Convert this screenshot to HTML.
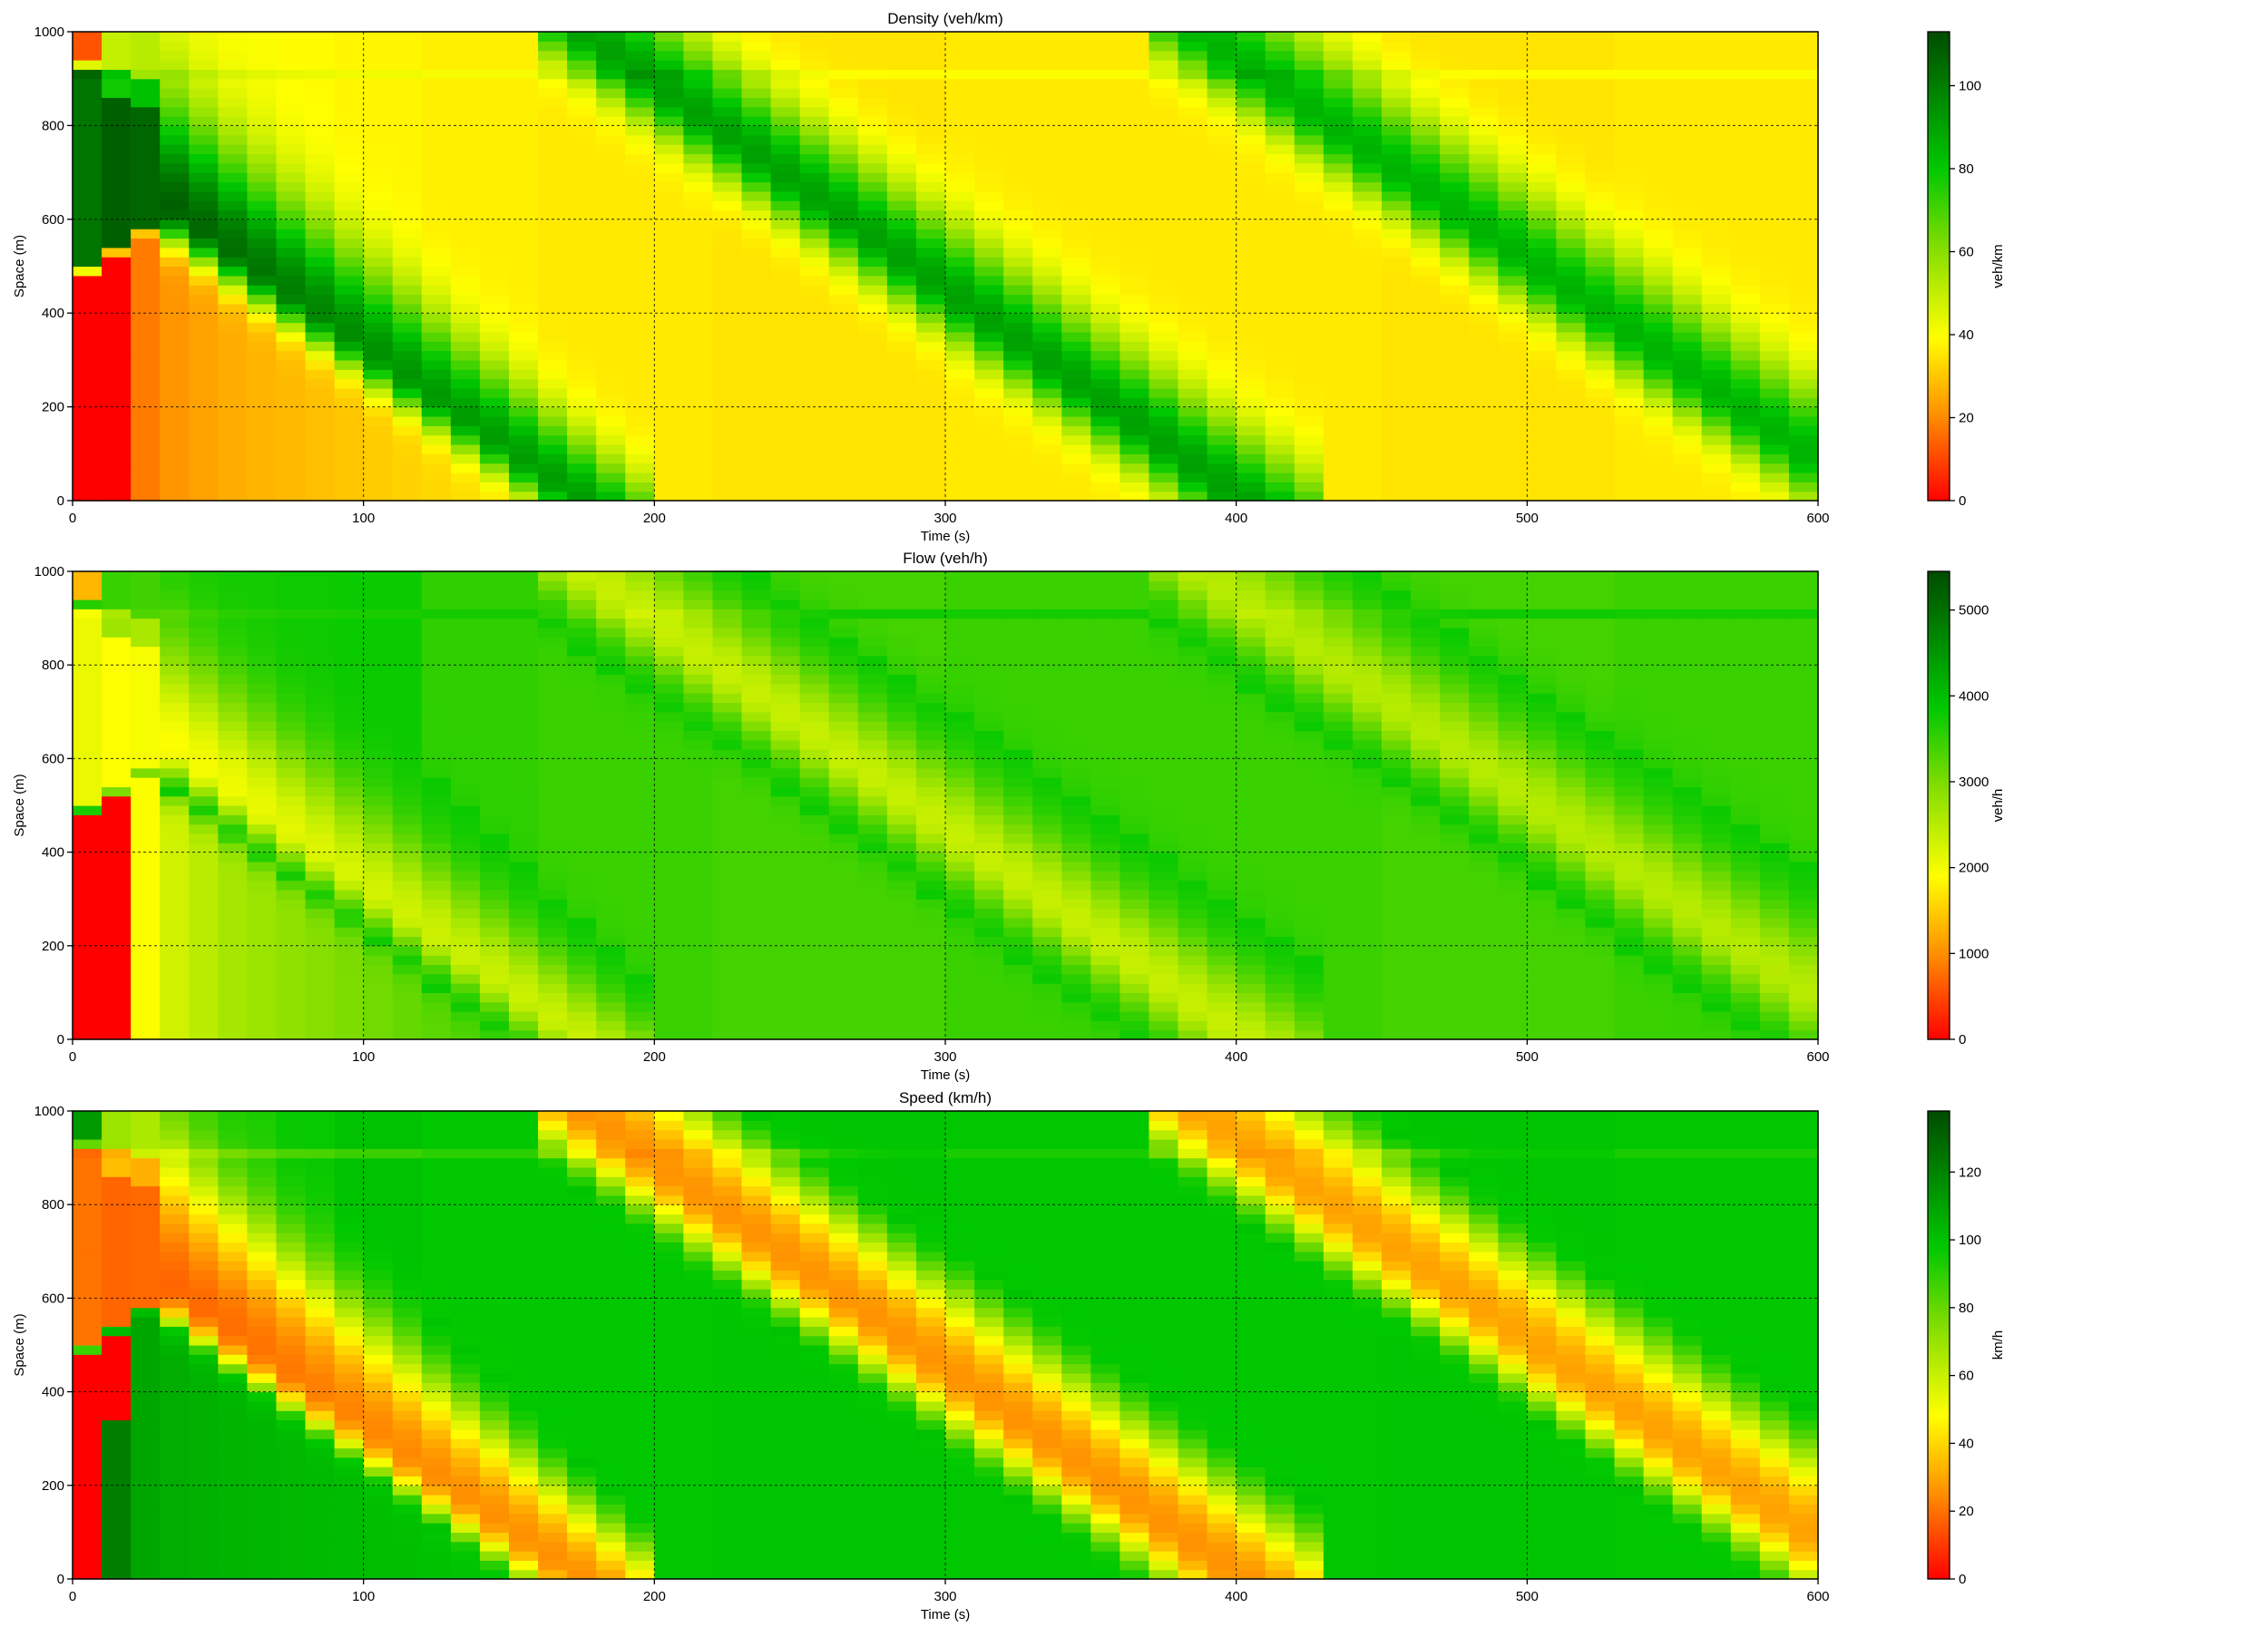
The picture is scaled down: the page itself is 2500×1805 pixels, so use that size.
<!DOCTYPE html>
<html><head><meta charset="utf-8"><style>
html,body{margin:0;padding:0;background:#fff;}
svg text{font-family:"Liberation Sans",sans-serif;fill:#000;}
</style></head><body>
<svg id="fig" xmlns="http://www.w3.org/2000/svg" width="2500" height="1800" viewBox="0 0 2500 1800"></svg>
<script>
// ---- data ----
const times = [0,10,20,30,40,50,60,70,80,90,100,110,120,130,140,150,160,170,180,190,200,210,220,230,240,250,260,270,280,290,300,310,320,330,340,350,360,370,380,390,400,410,420,430,440,450,460,470,480,490,500,510,520,530,540,550,560,570,580,590];
const spaces = [];
for (let s = 0; s < 1000; s += 20) spaces.push(s);
const N = null;
// jam wave centres (m) per time column
const wave1Center = [N,N,N,620,576,531,487,442,398,354,309,265,220,176,132,87,43,-1,-46,-90,N,N,N,N,N,N,N,N,N,N,N,N,N,N,N,N,N,N,N,N,N,N,N,N,N,N,N,N,N,N,N,N,N,N,N,N,N,N,N,N];
const wave2Center = [N,N,N,N,N,N,N,N,N,N,N,N,N,N,N,N,1044,1000,956,912,868,824,780,736,692,648,604,560,516,472,428,384,340,296,252,208,164,120,76,32,-12,-56,-100,N,N,N,N,N,N,N,N,N,N,N,N,N,N,N,N,N];
const wave3Center = [N,N,N,N,N,N,N,N,N,N,N,N,N,N,N,N,N,N,N,N,N,N,N,N,N,N,N,N,N,N,N,N,N,N,N,N,N,1047,1004,961,919,876,833,790,747,704,661,618,575,532,489,446,403,360,317,274,231,188,145,102];
const wave1Peak = [0,0,0,108,106,104,102,100,98,96,95,94,93,92,92,92,92,92,92,92,0,0,0,0,0,0,0,0,0,0,0,0,0,0,0,0,0,0,0,0,0,0,0,0,0,0,0,0,0,0,0,0,0,0,0,0,0,0,0,0];
const wave2Peak = 91;
const wave3Peak = 86;
const baseAbove = [0,0,0,42,41,40,40,39,39,38,38,38,37,37,37,37,36,36,36,36,36,36,35,35,35,35,35,35,35,35,36,36,36,36,36,36,36,36,36,36,36,36,36,36,36,35,35,35,35,35,35,35,35,36,36,36,36,36,36,36];
const baseBelow = [0,0,0,22,24,26,27,28,29,30,31,32,33,34,34,35,35,35,35,35,36,36,35,35,35,35,35,35,35,35,36,36,36,36,36,36,36,36,36,36,36,36,36,36,36,35,35,35,35,35,35,35,35,36,36,36,36,36,36,36];
// explicit early-column density segments [from m, to m, veh/km]
const col0Density = [[0,470,0],[470,500,42],[500,920,102],[920,940,45],[940,1000,12]];
const col1Density = [[0,510,0],[510,530,30],[530,860,108],[860,920,78],[920,1000,50]];
const col2Density = [[0,550,18],[550,580,30],[580,840,106],[840,900,82],[900,1000,52]];
const col1SpeedLow = [[0,340,122]];
const densityTicks = [0,20,40,60,80,100];
const flowTicks = [0,1000,2000,3000,4000,5000];
const speedTicks = [0,20,40,60,80,100,120];
const xTicks = [0,100,200,300,400,500,600];
const yTicks = [0,200,400,600,800,1000];

// ---- model helpers ----
function segVal(segs, s){ for (const g of segs) if (s>=g[0] && s<g[1]) return g[2]; return null; }
function density(i, s){
  let k;
  if (i===0) k = segVal(col0Density, s);
  else if (i===1) k = segVal(col1Density, s);
  else if (i===2) k = segVal(col2Density, s);
  else {
    const c1 = wave1Center[i];
    let base = (c1!==null && s < c1) ? baseBelow[i] : baseAbove[i];
    k = base;
    const waves = [[c1, wave1Peak[i], 70, 240-6*i],[wave2Center[i], wave2Peak, 95, 150],[wave3Center[i], wave3Peak, 95, 150]];
    for (const w of waves){
      if (w[0]===null || w[0]===undefined) continue;
      const d = s + 10 - w[0];
      const sig = d < 0 ? w[2] : w[3];
      const g = Math.exp(-(d/sig)*(d/sig));
      k = Math.max(k, base + (w[1]-base)*g);
    }
  }
  if (s>=900 && s<920 && k>0) k += 4;
  return k;
}
function flowOf(k){ if (k<=0) return 0; return k<=38 ? k*(118-0.6*k) : 3800*(180-k)/142; }
function speedOf(k, i, s){
  if (k<=0){ if (i===1){ const v = segVal(col1SpeedLow, s); if (v!==null) return v; } return 0; }
  return k<=38 ? 120-0.6*k : flowOf(k)/k;
}

// ---- colour map ----
const stops = [[0,[255,0,0]],[0.18,[255,140,0]],[0.35,[255,255,0]],[0.55,[125,220,0]],[0.71,[0,200,0]],[1,[0,77,0]]];
function cmap(t){
  t = Math.max(0, Math.min(1, t));
  for (let j=1;j<stops.length;j++){
    if (t<=stops[j][0]){
      const a=stops[j-1], b=stops[j], f=(t-a[0])/(b[0]-a[0]);
      return 'rgb('+a[1].map((v,q)=>Math.round(v+(b[1][q]-v)*f)).join(',')+')';
    }
  }
  return 'rgb(0,77,0)';
}

// ---- drawing ----
const NS = 'http://www.w3.org/2000/svg';
const svg = document.getElementById('fig');
function el(tag, attrs, parent){ const e=document.createElementNS(NS,tag); for (const k in attrs) e.setAttribute(k, attrs[k]); (parent||svg).appendChild(e); return e; }
const X0=80, X1=2004, CBX=2125, CBW=24;
const panels = [
  {name:'density', title:'Density (veh/km)', unit:'veh/km', y0:35, y1:552, vmax:113, ticks:densityTicks, val:(i,s)=>density(i,s)},
  {name:'flow', title:'Flow (veh/h)', unit:'veh/h', y0:630, y1:1146, vmax:5450, ticks:flowTicks, val:(i,s)=>flowOf(density(i,s))},
  {name:'speed', title:'Speed (km/h)', unit:'km/h', y0:1225, y1:1741, vmax:138, ticks:speedTicks, val:(i,s)=>speedOf(density(i,s),i,s)}
];
for (const p of panels){
  const xs = t => X0 + (t/600)*(X1-X0);
  const ys = s => p.y1 - (s/1000)*(p.y1-p.y0);
  const g = el('g', {});
  
  
  for (let i=0;i<times.length;i++){
    for (const s of spaces){
      const v = p.val(i, s);
      const r = el('rect', {x:xs(times[i]).toFixed(2), y:ys(s+20).toFixed(2), width:(xs(times[i]+10)-xs(times[i])+0.6).toFixed(2), height:(ys(s)-ys(s+20)+0.6).toFixed(2), fill:cmap(v/p.vmax)}, g);
      
      
    }
  }
  for (const t of xTicks.slice(1,-1)){
    const l = el('line', {x1:xs(t), x2:xs(t), y1:p.y0, y2:p.y1, stroke:'#000', 'stroke-width':1, 'stroke-dasharray':'3,3', opacity:0.8});
     
  }
  for (const s of yTicks.slice(1,-1)){
    const l = el('line', {x1:X0, x2:X1, y1:ys(s), y2:ys(s), stroke:'#000', 'stroke-width':1, 'stroke-dasharray':'3,3', opacity:0.8});
     
  }
  const fr = el('rect', {x:X0, y:p.y0, width:X1-X0, height:p.y1-p.y0, fill:'none', stroke:'#000', 'stroke-width':1.5});
   
  for (const t of xTicks){
    el('line', {x1:xs(t), x2:xs(t), y1:p.y1, y2:p.y1+6, stroke:'#000', 'stroke-width':1.3});
    const tx = el('text', {x:xs(t), y:p.y1+24, 'font-size':15, 'text-anchor':'middle'}); tx.textContent=t;
     
  }
  for (const s of yTicks){
    el('line', {x1:X0-6, x2:X0, y1:ys(s), y2:ys(s), stroke:'#000', 'stroke-width':1.3});
    const ty = el('text', {x:X0-9, y:ys(s)+5, 'font-size':15, 'text-anchor':'end'}); ty.textContent=s;
     
  }
  const tt = el('text', {x:(X0+X1)/2, y:p.y0-9, 'font-size':17, 'text-anchor':'middle'}); tt.textContent=p.title;
   
  const xl = el('text', {x:(X0+X1)/2, y:p.y1+44, 'font-size':15, 'text-anchor':'middle'}); xl.textContent='Time (s)';
   
  const yc=(p.y0+p.y1)/2;
  const yl = el('text', {x:26, y:yc, 'font-size':15, 'text-anchor':'middle', transform:'rotate(-90 26 '+yc+')'}); yl.textContent='Space (m)';
   
  const cb = el('g', {});
   
  const H=p.y1-p.y0, nseg=200;
  for (let j=0;j<nseg;j++){
    el('rect', {x:CBX, y:(p.y1-(j+1)*H/nseg).toFixed(2), width:CBW, height:(H/nseg+0.6).toFixed(2), fill:cmap((j+0.5)/nseg)}, cb);
  }
  el('rect', {x:CBX, y:p.y0, width:CBW, height:H, fill:'none', stroke:'#000', 'stroke-width':1.3}, cb);
  for (const v of p.ticks){
    const y = p.y1 - v/p.vmax*H;
    el('line', {x1:CBX+CBW, x2:CBX+CBW+6, y1:y, y2:y, stroke:'#000', 'stroke-width':1.3}, cb);
    const t = el('text', {x:CBX+CBW+10, y:y+5, 'font-size':15}, cb); t.textContent=v;
     
  }
  const ul = el('text', {x:2207, y:yc, 'font-size':15, 'text-anchor':'middle', transform:'rotate(-90 2207 '+yc+')'}, cb); ul.textContent=p.unit;
   
}
</script>
</body></html>
